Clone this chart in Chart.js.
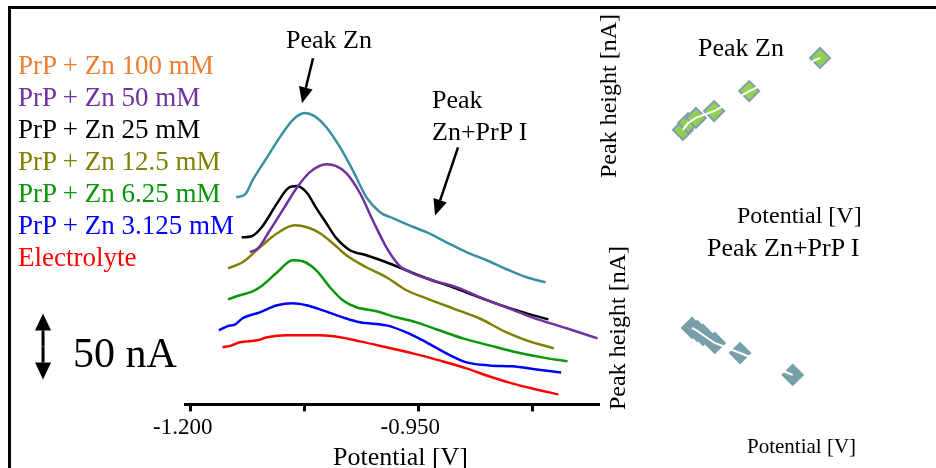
<!DOCTYPE html>
<html>
<head>
<meta charset="utf-8">
<script src="https://cdn.jsdelivr.net/npm/chart.js@4.4.0/dist/chart.umd.min.js"></script>
<style>
  html, body { margin: 0; padding: 0; background: #fff; overflow: hidden; }
  body { width: 936px; height: 468px; position: relative; font-family: "Liberation Serif", "Times New Roman", serif; }
  .frame { position: absolute; left: 8px; top: 6px; width: 960px; height: 500px; border-top: 3px solid #000; border-left: 3px solid #000; }
  .txt { position: absolute; white-space: nowrap; color: #000; }
  canvas { position: absolute; }
  .rot { transform: rotate(-90deg); text-align: center; width: 200px; }
</style>
</head>
<body>
<div class="frame"></div>
<canvas id="main" width="936" height="445" style="left:0;top:0"></canvas>
<canvas id="inset1" width="260" height="160" style="left:640px;top:20px"></canvas>
<canvas id="inset2" width="260" height="160" style="left:640px;top:250px"></canvas>

<div id="legend" class="txt" style="left:18px;top:49px;font-size:27px;line-height:32px"></div>
<div class="txt" style="left:73px;top:332px;font-size:42px;line-height:42px">50 nA</div>
<div class="txt" style="left:286px;top:27px;font-size:26px;line-height:26px">Peak Zn</div>
<div class="txt" style="left:432px;top:84px;font-size:26px;line-height:32px">Peak<br>Zn+PrP I</div>
<div class="txt" style="left:333px;top:444px;font-size:26px;line-height:26px">Potential [V]</div>

<div class="txt rot" style="left:508px;top:84px;font-size:24px;line-height:24px">Peak height [nA]</div>
<div class="txt" style="left:698px;top:35px;font-size:26px;line-height:26px">Peak Zn</div>
<div class="txt" style="left:737px;top:203px;font-size:24px;line-height:24px">Potential [V]</div>

<div class="txt" style="left:707px;top:235px;font-size:26px;line-height:26px">Peak Zn+PrP I</div>
<div class="txt rot" style="left:517px;top:316px;font-size:24px;line-height:24px">Peak height [nA]</div>
<div class="txt" style="left:747px;top:436px;font-size:21px;line-height:21px">Potential [V]</div>

<script>
// series names as written in the legend, top to bottom
const seriesLabels = ["PrP + Zn 100 mM", "PrP + Zn 50 mM", "PrP + Zn 25 mM", "PrP + Zn 12.5 mM",
                      "PrP + Zn 6.25 mM", "PrP + Zn 3.125 mM", "Electrolyte"];
const legendColors = ["#ed7d31", "#7030a0", "#000000", "#808000", "#0a960a", "#0000ff", "#ff0000"];
const lineColors   = ["#3a8fa3", "#7030a0", "#000000", "#808000", "#0a960a", "#0000ff", "#ff0000"];

// potential [V] / current [nA, offset traces]
const pot100 = [-1.150,-1.140,-1.132,-1.116,-1.102,-1.088,-1.075,-1.064,-1.051,-1.036,-1.022,-1.007,-0.992,-0.978,-0.963,-0.941,-0.919,-0.897,-0.875,-0.853,-0.831,-0.810];
const cur100 = [156.8,159.1,169.7,187.1,202.3,215.2,220.5,218.2,209.8,194.7,177.3,156.8,145.5,140.9,136.4,130.3,122.7,115.2,109.1,102.3,96.2,92.4];

const pot50 = [-1.135,-1.126,-1.113,-1.099,-1.083,-1.069,-1.051,-1.040,-1.029,-1.014,-1.000,-0.985,-0.971,-0.956,-0.934,-0.905,-0.880,-0.853,-0.825,-0.787,-0.753];
const cur50 = [115.2,118.2,131.8,147.0,164.4,175.8,181.8,180.3,175.0,159.8,139.4,118.9,105.3,99.2,93.9,87.9,80.3,73.5,65.9,57.6,50.0];

const pot25 = [-1.144,-1.133,-1.122,-1.105,-1.093,-1.083,-1.072,-1.062,-1.051,-1.040,-1.025,-1.007,-0.985,-0.963,-0.941,-0.912,-0.883,-0.853,-0.831,-0.807];
const cur25 = [126.5,127.3,134.1,152.3,163.6,165.2,159.8,148.5,137.1,125.8,116.7,112.9,107.6,101.5,95.5,88.6,81.1,73.5,68.9,64.4];

const pot12 = [-1.159,-1.143,-1.124,-1.105,-1.086,-1.072,-1.058,-1.044,-1.029,-1.007,-0.985,-0.963,-0.941,-0.912,-0.883,-0.853,-0.831,-0.801];
const cur12 = [103.0,107.6,118.9,129.5,135.6,134.1,129.5,122.0,112.9,103.8,96.2,86.4,80.3,72.7,65.2,54.5,48.5,42.4];

const pot6 = [-1.159,-1.146,-1.132,-1.121,-1.105,-1.088,-1.077,-1.062,-1.047,-1.033,-1.018,-0.996,-0.974,-0.952,-0.927,-0.901,-0.872,-0.842,-0.814,-0.786];
const cur6 = [79.5,82.6,85.6,90.2,100.0,109.1,108.3,101.5,88.6,78.8,73.5,70.5,65.9,62.1,56.1,50.0,44.7,39.4,35.6,32.6];

const pot3 = [-1.169,-1.160,-1.151,-1.143,-1.124,-1.105,-1.088,-1.073,-1.055,-1.033,-1.014,-0.985,-0.963,-0.941,-0.919,-0.897,-0.872,-0.847,-0.820,-0.793];
const cur3 = [56.1,59.1,60.6,65.2,69.7,75.0,76.5,75.0,71.2,65.9,62.1,59.8,54.5,47.0,38.6,31.8,29.5,28.8,26.5,24.2];

const potEl = [-1.165,-1.155,-1.146,-1.127,-1.116,-1.094,-1.080,-1.058,-1.036,-1.014,-0.985,-0.956,-0.927,-0.897,-0.869,-0.847,-0.825,-0.796];
const curEl = [43.2,44.7,47.0,48.5,50.8,52.3,52.3,52.3,50.8,47.7,43.2,38.6,33.3,27.3,20.5,15.9,12.1,7.6];

const xTickValues = [-1.2, -1.075, -0.95, -0.825];
const xTickLabels = ["-1.200", "", "-0.950", ""];

// inset data: peak potential [V] vs peak height [nA]
const peakZnPot = [-1.0934, -1.0926, -1.0914, -1.0886, -1.0832, -1.0723];
const peakZnHeight = [31.3, 35.6, 38.8, 43.1, 55.6, 76.3];
const peakPrpPot = [-0.9420, -0.9412, -0.9403, -0.9385, -0.9346, -0.9265];
const peakPrpHeight = [51.3, 49.4, 46.9, 41.9, 35.6, 21.9];

const fontFam = '"Liberation Serif", "Times New Roman", serif';

document.getElementById("legend").innerHTML = seriesLabels
  .map((s, i) => `<div style="color:${legendColors[i]}">${s}</div>`).join("");

function pts(xs, ys) {
  return xs.map((x, i) => ({ x: x, y: ys[i] }));
}

const traces = [
  pts(pot100, cur100), pts(pot50, cur50), pts(pot25, cur25), pts(pot12, cur12),
  pts(pot6, cur6), pts(pot3, cur3), pts(potEl, curEl)
];

function arrow(ctx, x1, y1, x2, y2, w, headLen, headHalf) {
  const a = Math.atan2(y2 - y1, x2 - x1);
  const bx = x2 - headLen * Math.cos(a), by = y2 - headLen * Math.sin(a);
  ctx.lineWidth = w;
  ctx.beginPath(); ctx.moveTo(x1, y1); ctx.lineTo(bx, by); ctx.stroke();
  ctx.beginPath(); ctx.moveTo(x2, y2);
  ctx.lineTo(bx + headHalf * Math.sin(a), by - headHalf * Math.cos(a));
  ctx.lineTo(bx - headHalf * Math.sin(a), by + headHalf * Math.cos(a));
  ctx.closePath(); ctx.fill();
}

// annotation arrows in data units [V, nA]
const peakZnArrow = [-1.0656, 262.0, -1.0777, 227.9];
const peakPrpArrow = [-0.9063, 194.5, -0.9316, 143.0];
const scaleBar = { x: -1.3623, from: 18.8, span: 50 };

const annotations = {
  id: "annotations",
  afterDraw(chart) {
    const ctx = chart.ctx, xs = chart.scales.x, ys = chart.scales.y;
    ctx.save();
    ctx.strokeStyle = "#000"; ctx.fillStyle = "#000";
    [peakZnArrow, peakPrpArrow].forEach(a => {
      arrow(ctx, xs.getPixelForValue(a[0]), ys.getPixelForValue(a[1]),
            xs.getPixelForValue(a[2]), ys.getPixelForValue(a[3]), 2.5, 16, 7);
    });
    const bx = xs.getPixelForValue(scaleBar.x);
    const yb = ys.getPixelForValue(scaleBar.from);
    const yt = ys.getPixelForValue(scaleBar.from + scaleBar.span);
    const ym = (yb + yt) / 2;
    arrow(ctx, bx, ym, bx, yt, 3, 17, 8);
    arrow(ctx, bx, ym, bx, yb, 3, 17, 8);
    ctx.restore();
  }
};

new Chart(document.getElementById("main"), {
  type: "line",
  data: {
    datasets: traces.map((d, i) => ({
      label: seriesLabels[i],
      data: d,
      borderColor: lineColors[i],
      borderWidth: 2.5,
      pointRadius: 0,
      fill: false,
      cubicInterpolationMode: "monotone"
    }))
  },
  options: {
    responsive: false,
    animation: false,
    layout: { padding: { left: 185, right: 337, top: 8, bottom: 0 } },
    plugins: { legend: { display: false }, tooltip: { enabled: false } },
    scales: {
      x: {
        type: "linear",
        min: -1.2063,
        max: -0.7514,
        afterBuildTicks: (scale) => { scale.ticks = xTickValues.map(v => ({ value: v })); },
        ticks: {
          autoSkip: false,
          maxRotation: 0,
          padding: 3,
          labelOffset: -8,
          color: "#000",
          font: { family: fontFam, size: 23 },
          callback: (v, i) => xTickLabels[i]
        },
        grid: { drawOnChartArea: false, drawTicks: true, tickLength: 7, tickWidth: 3, tickColor: "#000" },
        border: { display: true, width: 3, color: "#000" },
        title: { display: false }
      },
      y: { display: false, min: 0, max: 300 }
    }
  },
  plugins: [annotations]
});

function insetChart(id, xs, ys, xMin, xMax, fill, edge) {
  const d = pts(xs, ys);
  new Chart(document.getElementById(id), {
    type: "scatter",
    data: {
      datasets: [
        { data: d, showLine: true, borderColor: "#ffffff", borderWidth: 2, pointRadius: 0 },
        { data: d, pointStyle: "rectRot", pointRadius: 10, backgroundColor: fill, borderColor: edge, borderWidth: 2 }
      ]
    },
    options: {
      responsive: false,
      animation: false,
      layout: { padding: 0, autoPadding: false },
      plugins: { legend: { display: false }, tooltip: { enabled: false } },
      scales: {
        x: { display: false, min: xMin, max: xMax },
        y: { display: false, min: 0, max: 100 }
      }
    }
  });
}

insetChart("inset1", peakZnPot, peakZnHeight, -1.10, -1.06, "#92d050", "#7f9fb0");
insetChart("inset2", peakPrpPot, peakPrpHeight, -0.95, -0.91, "#789faa", "#789faa");
</script>
</body>
</html>
